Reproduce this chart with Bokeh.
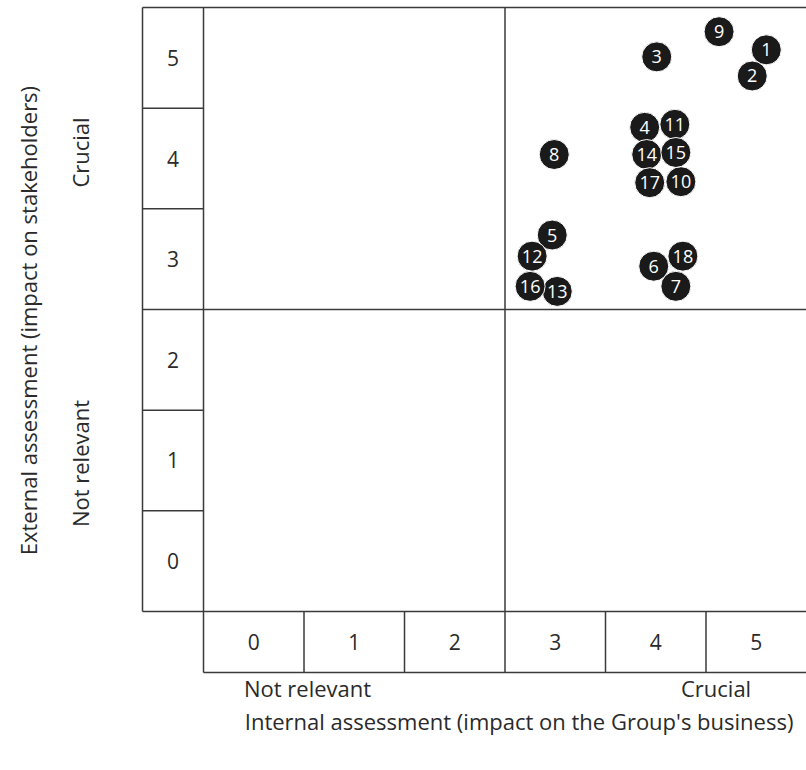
import numpy as np
from bokeh.plotting import figure
from bokeh.models import Range1d, ColumnDataSource
from bokeh.core.properties import value
from bokeh.embed import file_html
from bokeh.resources import INLINE

# ---- data ----
topic_ids = ["1", "2", "3", "4", "5", "6", "7", "8", "9", "10",
             "11", "12", "13", "14", "15", "16", "17", "18"]
internal_score = [5.60, 5.46, 4.51, 4.39, 3.47, 4.48, 4.70, 3.49, 5.13, 4.75,
                  4.69, 3.27, 3.52, 4.41, 4.70, 3.25, 4.44, 4.77]
external_score = [5.58, 5.32, 5.51, 4.81, 3.74, 3.43, 3.23, 4.54, 5.76, 4.27,
                  4.84, 3.53, 3.18, 4.54, 4.56, 3.23, 4.26, 3.53]
x_tick_labels = ["0", "1", "2", "3", "4", "5"]
y_tick_labels = ["0", "1", "2", "3", "4", "5"]
x_title = "Internal assessment (impact on the Group's business)"
y_title = "External assessment (impact on stakeholders)"
low_label = "Not relevant"
high_label = "Crucial"

FONT = "Open Sans"
LINE = "#3a3a3a"
TXT = "#2a2a2a"

p = figure(width=806, height=770, output_backend="svg", toolbar_location=None,
           x_range=Range1d(-2.02, 6.0), y_range=Range1d(-1.58, 6.07),
           min_border=0, outline_line_color=None)
p.axis.visible = False
p.grid.visible = False

n = len(x_tick_labels)
cw = 0.607  # width/height of label cells in data units

# outer frame lines
p.segment(x0=[-cw, 0, -cw, -cw, 0, 3, 0],
          y0=[6, -cw, 0, 0, -cw, 0, 3],
          x1=[n, 0, n, -cw, n, 3, n],
          y1=[6, 6, 0, 6, -cw, 6, 3],
          line_color=LINE, line_width=1.5)
# cell dividers in left column and bottom row
idx = list(range(1, n))
p.segment(x0=[-cw] * len(idx), y0=idx, x1=[0] * len(idx), y1=idx,
          line_color=LINE, line_width=1.5)
p.segment(x0=idx, y0=[-cw] * len(idx), x1=idx, y1=[0] * len(idx),
          line_color=LINE, line_width=1.5)

# tick labels
centers = [i + 0.5 for i in range(n)]
p.text(x=[-cw / 2] * n, y=centers, text=y_tick_labels,
       text_font=value(FONT), text_font_size="21px", text_color=TXT,
       text_align="center", text_baseline="middle")
p.text(x=centers, y=[-cw / 2] * n, text=x_tick_labels,
       text_font=value(FONT), text_font_size="21px", text_color=TXT,
       text_align="center", text_baseline="middle")

# axis titles and qualitative labels
p.text(x=[-1.751], y=[2.89], text=[y_title], angle=np.pi / 2,
       text_font=value(FONT), text_font_size="22px", text_color=TXT,
       text_align="center", text_baseline="middle")
p.text(x=[-1.224, -1.224], y=[4.56, 1.47], text=[high_label, low_label],
       angle=np.pi / 2,
       text_font=value(FONT), text_font_size="22px", text_color=TXT,
       text_align="center", text_baseline="middle")
p.text(x=[1.035, 5.10], y=[-0.765, -0.765], text=[low_label, high_label],
       text_font=value(FONT), text_font_size="22px", text_color=TXT,
       text_align="center", text_baseline="middle")
p.text(x=[3.14], y=[-1.09], text=[x_title],
       text_font=value(FONT), text_font_size="22px", text_color=TXT,
       text_align="center", text_baseline="middle")

# numbered points
src = ColumnDataSource(dict(x=internal_score, y=external_score, t=topic_ids))
p.scatter(x="x", y="y", source=src, size=30, fill_color="#1a1a1a",
          line_color="white", line_width=1)
p.text(x="x", y="y", text="t", source=src, text_font=value(FONT),
       text_font_size="18px", text_color="white",
       text_align="center", text_baseline="middle")

open("out.html", "w").write(file_html(p, INLINE))
